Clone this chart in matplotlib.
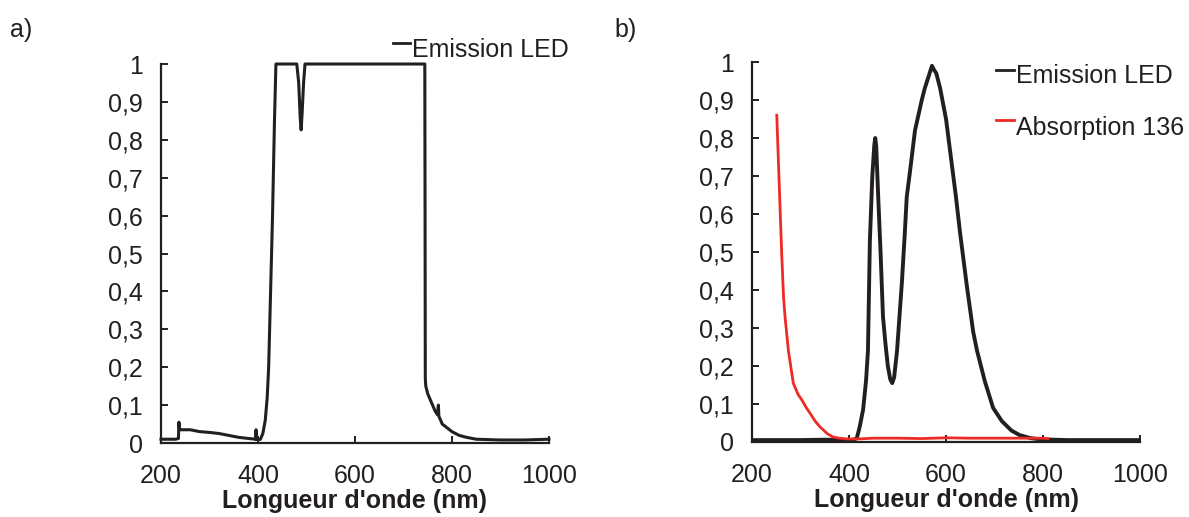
import matplotlib
matplotlib.use("Agg")
import matplotlib.pyplot as plt
from matplotlib.ticker import FuncFormatter

plt.rcParams['font.family'] = ['Liberation Sans', 'DejaVu Sans']

# panel a) saturated LED emission
wl_a = [200, 230, 236, 237, 238, 240, 260, 280, 300, 320, 340, 360, 380, 395,
        396, 397, 400, 405, 410, 415, 419, 422, 426, 430, 434, 437,
        480, 484, 487, 489, 491, 494, 497,
        744, 744.5, 745, 746, 750, 755, 760, 765, 770, 772, 773, 775, 780,
        790, 800, 815, 830, 850, 900, 950, 1000]
em_a = [0.01, 0.01, 0.012, 0.055, 0.04, 0.035, 0.035, 0.03, 0.028, 0.025, 0.02, 0.015, 0.012, 0.01,
        0.035, 0.01, 0.008, 0.01, 0.025, 0.06, 0.12, 0.2, 0.4, 0.6, 0.85, 1.0,
        1.0, 0.95, 0.86, 0.826, 0.87, 0.95, 1.0,
        1.0, 0.62, 0.17, 0.15, 0.13, 0.115, 0.1, 0.085, 0.075, 0.1, 0.07, 0.065, 0.05,
        0.04, 0.03, 0.02, 0.015, 0.01, 0.008, 0.008, 0.01]

# panel b) LED emission and absorption of 136
wl_b = [200, 250, 300, 350, 400, 410, 416, 422, 429, 435, 439, 443, 448, 452, 454, 456,
        460, 465, 470, 475, 480, 485, 489, 493, 499, 504, 509, 515, 519, 526, 536, 543,
        550, 556, 561, 566, 571, 575, 580, 588, 600, 608, 612, 620, 629, 643, 656, 664,
        680, 697, 715, 735, 752, 775, 794, 850, 900, 1000]
em_b = [0.005, 0.005, 0.005, 0.006, 0.005, 0.006, 0.01, 0.04, 0.085, 0.16, 0.24, 0.53, 0.7, 0.78, 0.80, 0.78,
        0.65, 0.5, 0.33, 0.26, 0.2, 0.165, 0.155, 0.17, 0.24, 0.33, 0.42, 0.55, 0.645, 0.715, 0.82, 0.86,
        0.9, 0.93, 0.95, 0.97, 0.99, 0.98, 0.97, 0.93, 0.85, 0.77, 0.73, 0.65, 0.55, 0.41, 0.29, 0.24,
        0.16, 0.09, 0.055, 0.03, 0.018, 0.01, 0.007, 0.005, 0.005, 0.005]

wl_abs = [251, 256, 261, 265, 268, 275, 285, 295, 303, 312, 320, 330, 340, 355, 367, 380,
          396, 420, 450, 500, 550, 600, 650, 700, 750, 800, 810]
abs_136 = [0.86, 0.68, 0.5, 0.38, 0.33, 0.24, 0.155, 0.125, 0.11, 0.09, 0.075, 0.055, 0.04, 0.022, 0.013, 0.01,
           0.008, 0.008, 0.01, 0.01, 0.009, 0.011, 0.01, 0.01, 0.01, 0.01, 0.009]

x_ticks = [200, 400, 600, 800, 1000]
y_ticks = [0, 0.1, 0.2, 0.3, 0.4, 0.5, 0.6, 0.7, 0.8, 0.9, 1]

BLACK = "#231f20"
RED = "#ed2a24"
FS = 18


def comma(v, pos):
    return ("%g" % v).replace(".", ",")


def style(ax):
    ax.set_xlim(200, 1000)
    ax.set_ylim(0, 1)
    ax.set_xticks(x_ticks)
    ax.set_yticks(y_ticks)
    ax.yaxis.set_major_formatter(FuncFormatter(comma))
    for s in ["top", "right"]:
        ax.spines[s].set_visible(False)
    for s in ["left", "bottom"]:
        ax.spines[s].set_linewidth(1.6)
        ax.spines[s].set_color(BLACK)
    ax.tick_params(direction="in", length=5, width=1.4, labelsize=FS, colors=BLACK)
    ax.tick_params(axis="x", pad=15)
    ax.tick_params(axis="y", pad=13)
    ax.set_xlabel("Longueur d'onde (nm)", fontsize=FS, fontweight="bold", color=BLACK, labelpad=1)


def legend_entry(ax, x_line, x_text, y_line, y_text, label, color):
    # short dash raised to the top of the text, like the original legend
    ax.plot(x_line, [y_line, y_line], color=color, lw=2, transform=ax.transAxes, clip_on=False)
    ax.text(x_text, y_text, label, transform=ax.transAxes, fontsize=FS, color=BLACK,
            va="baseline", ha="left")


fig = plt.figure(figsize=(11.89, 5.17), dpi=100)
ax1 = fig.add_axes([0.1354, 0.1431, 0.3263, 0.7331])
ax2 = fig.add_axes([0.6325, 0.1451, 0.3263, 0.7349])

ax1.plot(wl_a, em_a, color=BLACK, lw=2.2, clip_on=False)
style(ax1)
legend_entry(ax1, [0.598, 0.642], 0.647, 1.055, 1.018, "Emission LED", BLACK)

ax2.plot(wl_b, em_b, color=BLACK, lw=2.8)
ax2.plot(wl_abs, abs_136, color=RED, lw=2)
style(ax2)
legend_entry(ax2, [0.629, 0.675], 0.680, 0.979, 0.945, "Emission LED", BLACK)
legend_entry(ax2, [0.629, 0.675], 0.680, 0.847, 0.808, "Absorption 136", RED)

fig.text(0.0084, 0.928, "a)", fontsize=FS, color=BLACK)
fig.text(0.517, 0.928, "b)", fontsize=FS, color=BLACK)

fig.savefig("out.png", dpi=100)
